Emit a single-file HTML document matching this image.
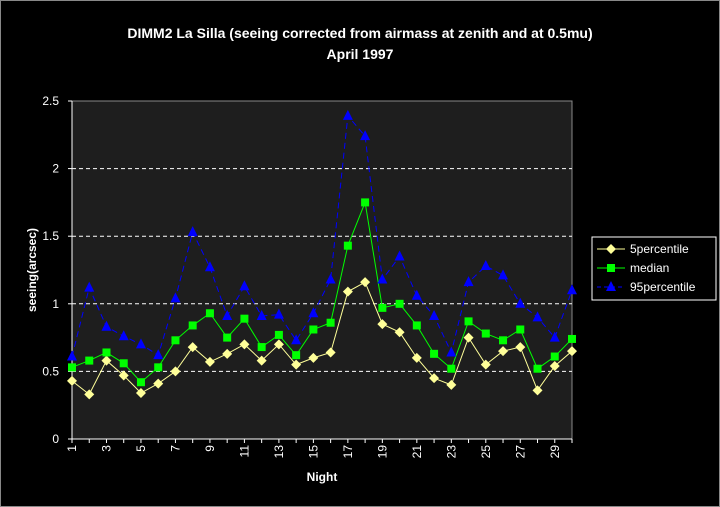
<!DOCTYPE html>
<html><head><meta charset="utf-8"><style>
body{margin:0;background:#000;}
svg{display:block;font-family:"Liberation Sans",sans-serif;}
</style></head><body>
<svg id="c" width="720" height="507">
<rect x="0.5" y="0.5" width="719" height="506" fill="#000" stroke="#888"/>
<text x="360" y="38" fill="#fff" font-size="14" font-weight="bold" text-anchor="middle">DIMM2 La Silla (seeing corrected from airmass at zenith and at 0.5mu)</text>
<text x="360" y="59" fill="#fff" font-size="14" font-weight="bold" text-anchor="middle">April 1997</text>
<rect x="72" y="101" width="500" height="338" fill="#1e1e1e" stroke="#888"/>
<g id="grid"></g><g id="axes"></g><g id="series"></g>
<text transform="translate(36,270) rotate(-90)" fill="#fff" font-size="12" font-weight="bold" text-anchor="middle">seeing(arcsec)</text>
<text x="322" y="481" fill="#fff" font-size="12" font-weight="bold" text-anchor="middle">Night</text>
<g>
<rect x="592" y="237" width="124" height="63" fill="#000" stroke="#fff"/>
<g id="leg"></g>
</g>
</svg>
<script>
const nights=[1,2,3,4,5,6,7,8,9,10,11,12,13,14,15,16,17,18,19,20,21,22,23,24,25,26,27,28,29,30];
const p5=[0.43,0.33,0.58,0.47,0.34,0.41,0.50,0.68,0.57,0.63,0.70,0.58,0.70,0.55,0.60,0.64,1.09,1.16,0.85,0.79,0.60,0.45,0.40,0.75,0.55,0.65,0.68,0.36,0.54,0.65];
const med=[0.53,0.58,0.64,0.56,0.42,0.53,0.73,0.84,0.93,0.75,0.89,0.68,0.77,0.62,0.81,0.86,1.43,1.75,0.97,1.00,0.84,0.63,0.52,0.87,0.78,0.73,0.81,0.52,0.61,0.74];
const p95=[0.61,1.12,0.83,0.76,0.70,0.62,1.04,1.53,1.27,0.91,1.13,0.91,0.92,0.73,0.93,1.18,2.39,2.24,1.18,1.35,1.06,0.91,0.64,1.16,1.28,1.21,1.00,0.90,0.75,1.10];
const yTicks=[0,0.5,1,1.5,2,2.5];
const yLabels=["0","0.5","1","1.5","2","2.5"];
const seriesNames=["5percentile","median","95percentile"];
const NS="http://www.w3.org/2000/svg";
const X0=72,X1=572,Y0=439,Y1=101;
const step=(X1-X0)/29;
const xs=n=>X0+step*(n-1);
const ys=v=>Y0-(v/2.5)*(Y0-Y1);
function mk(t,a,p){const e=document.createElementNS(NS,t);for(const k in a)e.setAttribute(k,a[k]);p.appendChild(e);return e;}
const grid=document.getElementById('grid'),axes=document.getElementById('axes'),ser=document.getElementById('series'),leg=document.getElementById('leg');
yTicks.forEach((v,i)=>{
 if(v>0&&v<2.5){const g=mk('line',{x1:X0,x2:X1,y1:ys(v),y2:ys(v),stroke:'#fff','stroke-dasharray':'4,3'},grid);
 
 }
 const t=mk('line',{x1:X0-4,x2:X0,y1:ys(v),y2:ys(v),stroke:'#fff'},axes);
 const l=mk('text',{x:X0-13,y:ys(v)+4,fill:'#fff','font-size':'12','text-anchor':'end'},axes);l.textContent=yLabels[i];
 
 
});
mk('line',{x1:X0,x2:X0,y1:Y1,y2:Y0,stroke:'#fff'},axes);
mk('line',{x1:X0,x2:X1,y1:Y0,y2:Y0,stroke:'#fff'},axes);
nights.forEach(n=>mk('line',{x1:xs(n),x2:xs(n),y1:Y0,y2:Y0+4,stroke:'#fff'},axes));
nights.forEach(n=>{if(n%2===1){const t=mk('text',{transform:`translate(${xs(n)+4},${Y0+6}) rotate(-90)`,fill:'#fff','font-size':'12','text-anchor':'end'},axes);t.textContent=n;
 
 }});
function marker(type,x,y,col,p){
 if(type==='d')return mk('polygon',{points:`${x},${y-5} ${x+5},${y} ${x},${y+5} ${x-5},${y}`,fill:col},p);
 if(type==='s')return mk('rect',{x:x-4,y:y-4,width:8,height:8,fill:col},p);
 return mk('polygon',{points:`${x},${y-6} ${x+5},${y+4} ${x-5},${y+4}`,fill:col},p);
}
const defs=[[p5,'#ffff99','d',null],[med,'#00ff00','s',null],[p95,'#0000ff','t','6,4']];
defs.forEach((d,si)=>{
 const g=mk('g',{},ser);
 
 
 const pl=mk('polyline',{points:d[0].map((v,i)=>xs(nights[i])+','+ys(v)).join(' '),fill:'none',stroke:d[1],'stroke-width':1},g);
 if(d[3])pl.setAttribute('stroke-dasharray',d[3]);
 d[0].forEach((v,i)=>{const m=marker(d[2],xs(nights[i]),ys(v),d[1],g);
 
 });
 const ly=249+si*19;
 const lg=mk('g',{},leg);
 
 
 const ll=mk('line',{x1:597,x2:625,y1:ly,y2:ly,stroke:d[1]},lg);
 if(d[3])ll.setAttribute('stroke-dasharray','4,3');
 marker(d[2],611,ly,d[1],lg);
 const t=mk('text',{x:630,y:ly+4,fill:'#fff','font-size':'12'},lg);t.textContent=seriesNames[si];
});
</script>
</body></html>
